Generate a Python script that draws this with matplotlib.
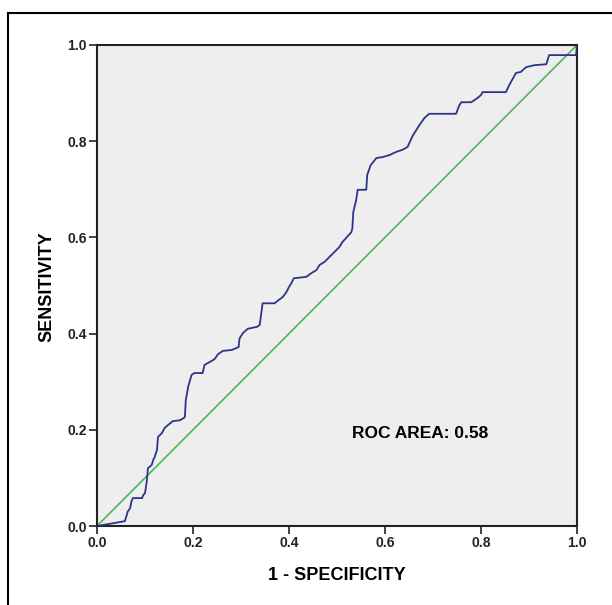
import matplotlib
matplotlib.use("Agg")
import matplotlib.pyplot as plt
from matplotlib.lines import Line2D

fpr = [0.0, 0.058, 0.062, 0.064, 0.069, 0.072, 0.075, 0.094, 0.096, 0.100, 0.104, 0.106,
       0.114, 0.117, 0.120, 0.125, 0.127, 0.135, 0.141, 0.148, 0.158, 0.173, 0.183, 0.185,
       0.190, 0.197, 0.203, 0.220, 0.224, 0.235, 0.245, 0.252, 0.262, 0.281, 0.295, 0.297,
       0.304, 0.314, 0.333, 0.339, 0.345, 0.370, 0.376, 0.387, 0.395, 0.400, 0.405, 0.410,
       0.436, 0.447, 0.457, 0.464, 0.474, 0.484, 0.495, 0.505, 0.511, 0.520, 0.530, 0.532,
       0.534, 0.540, 0.543, 0.561, 0.563, 0.570, 0.582, 0.595, 0.609, 0.624, 0.636, 0.647,
       0.657, 0.665, 0.672, 0.682, 0.692, 0.748, 0.755, 0.759, 0.780, 0.793, 0.800, 0.803,
       0.852, 0.859, 0.873, 0.883, 0.894, 0.911, 0.936, 0.942, 0.998, 1.0]
tpr = [0.0, 0.010, 0.023, 0.030, 0.037, 0.052, 0.058, 0.058, 0.064, 0.068, 0.095, 0.120,
       0.127, 0.137, 0.143, 0.158, 0.185, 0.193, 0.204, 0.210, 0.218, 0.220, 0.226, 0.262,
       0.290, 0.314, 0.318, 0.318, 0.335, 0.341, 0.347, 0.357, 0.364, 0.366, 0.372, 0.390,
       0.401, 0.410, 0.414, 0.418, 0.463, 0.463, 0.468, 0.476, 0.487, 0.497, 0.505, 0.515,
       0.518, 0.526, 0.532, 0.543, 0.549, 0.559, 0.570, 0.580, 0.590, 0.600, 0.611, 0.619,
       0.653, 0.678, 0.699, 0.699, 0.730, 0.750, 0.765, 0.767, 0.771, 0.778, 0.782, 0.788,
       0.810, 0.823, 0.834, 0.848, 0.857, 0.857, 0.875, 0.881, 0.881, 0.890, 0.896, 0.902,
       0.902, 0.917, 0.942, 0.944, 0.954, 0.958, 0.960, 0.979, 0.979, 1.0]
diag = [0.0, 1.0]
ticks = [0.0, 0.2, 0.4, 0.6, 0.8, 1.0]
tick_labels = ["0.0", "0.2", "0.4", "0.6", "0.8", "1.0"]
auc_text = "ROC AREA: 0.58"
x_title = "1 - SPECIFICITY"
y_title = "SENSITIVITY"

plt.rcParams['font.family'] = ['Liberation Sans', 'DejaVu Sans']

fig = plt.figure(figsize=(6.12, 6.05), dpi=100)
W, H = 612, 605
ax = fig.add_axes([97 / W, (H - 526) / H, 480 / W, 481 / H])
ax.set_facecolor('#eeeeee')

# outer frame
fig.add_artist(Line2D([8 / W, 8 / W], [0, 1 - 13 / H], transform=fig.transFigure, color='black', lw=1.5))
fig.add_artist(Line2D([8 / W, 1], [1 - 13 / H, 1 - 13 / H], transform=fig.transFigure, color='black', lw=1.5))

ax.plot(diag, diag, color='#3cb44b', lw=1.1, zorder=2)
ax.plot(fpr, tpr, color='#2e3586', lw=1.3, zorder=3)

ax.set_xlim(0, 1)
ax.set_ylim(0, 1)
ax.set_xticks(ticks)
ax.set_xticklabels(tick_labels)
ax.set_yticks(ticks)
ax.set_yticklabels(tick_labels)
ax.tick_params(direction='out', length=5.5, width=1.2, labelsize=10, pad=2, colors='#222222')
for lab in ax.get_xticklabels() + ax.get_yticklabels():
    lab.set_fontweight('bold')
    lab.set_color('#222222')
for s in ax.spines.values():
    s.set_linewidth(1.5)
    s.set_color('#222222')

fig.text(337 / W, 1 - 575 / H, x_title, fontsize=13, fontweight='bold', ha='center', va='center')
fig.text(47 / W, 1 - 287 / H, y_title, fontsize=13, fontweight='bold', ha='center', va='center', rotation=90)
ax.text(0.532, 0.192, auc_text, fontsize=12.5, fontweight='bold', transform=ax.transAxes, va='center', ha='left')

fig.savefig("out.png", dpi=100)
